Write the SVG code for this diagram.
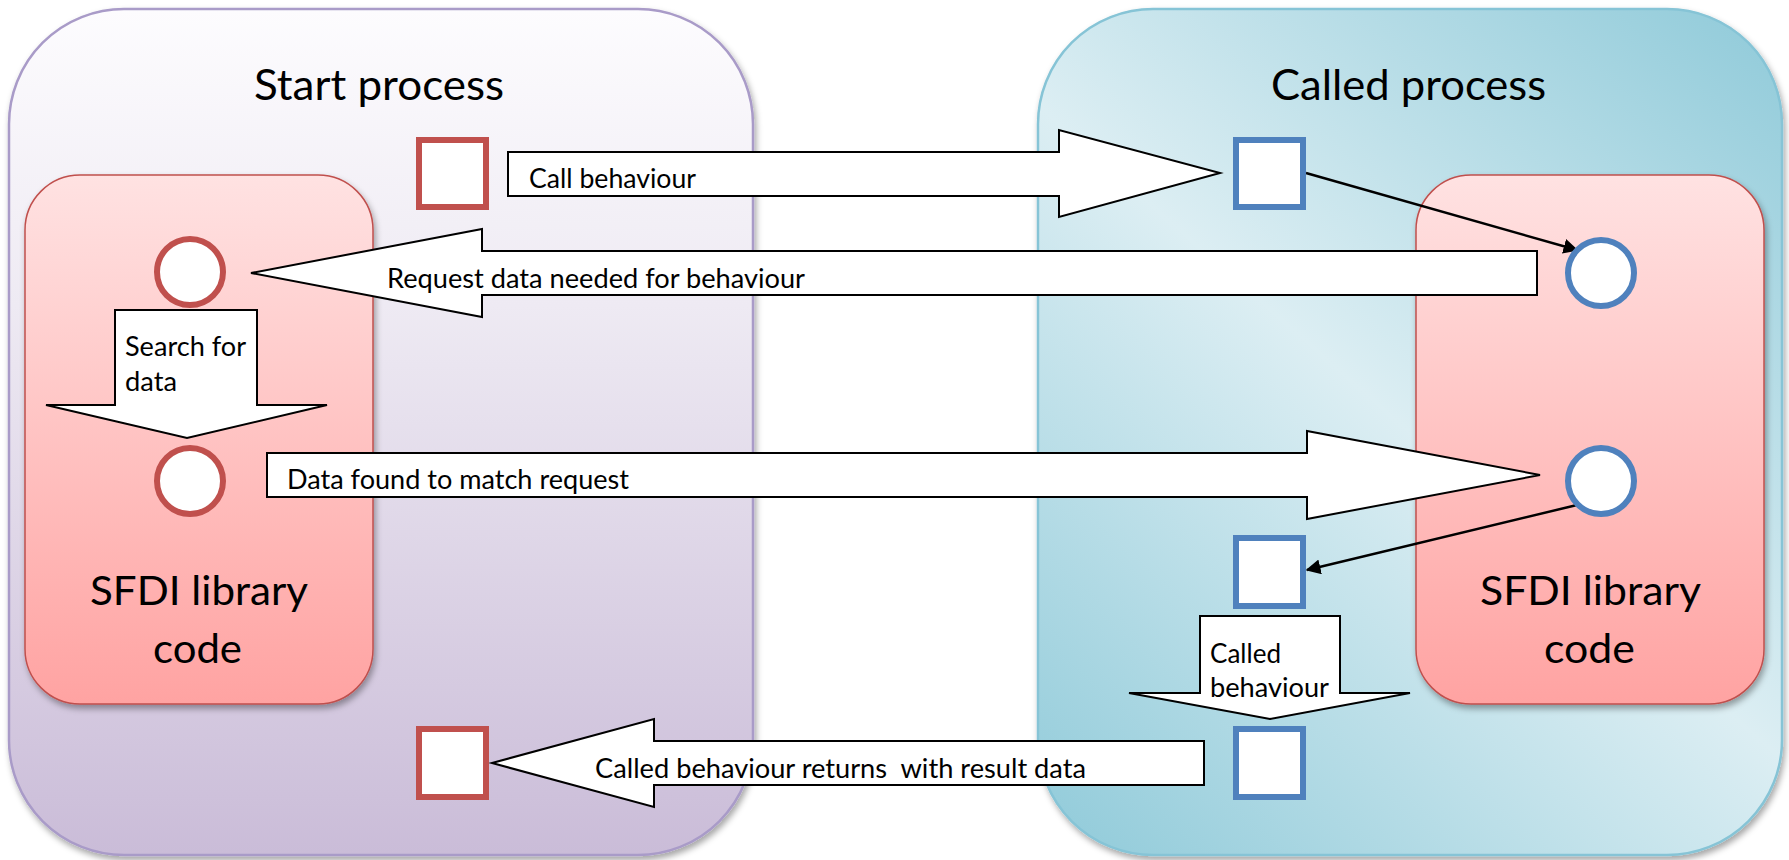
<svg xmlns="http://www.w3.org/2000/svg" width="1789" height="860" viewBox="0 0 1789 860">
  <defs>
    <linearGradient id="gStart" x1="0" y1="0" x2="0" y2="1">
      <stop offset="0" stop-color="#FDFCFE"/>
      <stop offset="0.35" stop-color="#EEEAF3"/>
      <stop offset="1" stop-color="#CABCD8"/>
    </linearGradient>
    <linearGradient id="gCalled" gradientUnits="userSpaceOnUse" x1="1782" y1="9" x2="1038" y2="856">
      <stop offset="0" stop-color="#8FCAD9"/>
      <stop offset="0.5" stop-color="#DCEEF3"/>
      <stop offset="1" stop-color="#8FCAD9"/>
    </linearGradient>
    <linearGradient id="gLib" x1="0" y1="0" x2="0" y2="1">
      <stop offset="0" stop-color="#FFE2E2"/>
      <stop offset="1" stop-color="#FFA3A2"/>
    </linearGradient>
    <filter id="shadow" x="-5%" y="-5%" width="112%" height="112%">
      <feDropShadow dx="2" dy="4" stdDeviation="3" flood-color="#000" flood-opacity="0.35"/>
    </filter>
    <marker id="tip" viewBox="0 0 10 10" refX="9" refY="5" markerWidth="6" markerHeight="6" orient="auto-start-reverse" markerUnits="strokeWidth">
      <path d="M0,0 L10,5 L0,10 Z" fill="#000"/>
    </marker>
  </defs>
  <style>
    .label { font-family: Lato, "Open Sans", "Liberation Sans", sans-serif; fill: #000; }
    .title { font-size: 42px; }
    .lib { font-size: 40px; }
    .small { font-size: 26px; }
    .block { fill: #FFFFFF; stroke: #000; stroke-width: 2; stroke-linejoin: miter; }
    .redSq { fill: #FFFFFF; stroke: #C0504D; stroke-width: 6; }
    .blueSq { fill: #FFFFFF; stroke: #4F81BD; stroke-width: 6; }
    .link { fill: none; stroke: #000; stroke-width: 2.5; }
  </style>

  <!-- process containers -->
  <g id="start-process">
    <rect x="9" y="9" width="744" height="846" rx="115" ry="115" fill="url(#gStart)" stroke="#A99BC8" stroke-width="2.5" filter="url(#shadow)"/>
    <text class="label title" x="254" y="100" textLength="250" lengthAdjust="spacingAndGlyphs">Start process</text>
  </g>
  <g id="called-process">
    <rect x="1038" y="9" width="744" height="846" rx="115" ry="115" fill="url(#gCalled)" stroke="#86C4D6" stroke-width="2.5" filter="url(#shadow)"/>
    <text class="label title" x="1271" y="100" textLength="275" lengthAdjust="spacingAndGlyphs">Called process</text>
  </g>

  <!-- library code boxes -->
  <g id="start-library">
    <rect x="25" y="175" width="348" height="529" rx="55" ry="55" fill="url(#gLib)" stroke="#C0504D" stroke-width="1.5" filter="url(#shadow)"/>
    <text class="label lib" x="90" y="605" textLength="218" lengthAdjust="spacingAndGlyphs">SFDI library</text>
    <text class="label lib" x="153" y="663" textLength="89" lengthAdjust="spacingAndGlyphs">code</text>
  </g>
  <g id="called-library">
    <rect x="1416" y="175" width="348" height="529" rx="55" ry="55" fill="url(#gLib)" stroke="#C0504D" stroke-width="1.5" filter="url(#shadow)"/>
    <text class="label lib" x="1480" y="605" textLength="221" lengthAdjust="spacingAndGlyphs">SFDI library</text>
    <text class="label lib" x="1544" y="663" textLength="91" lengthAdjust="spacingAndGlyphs">code</text>
  </g>

  <!-- connectors: block arrows and thin links -->
  <g id="connectors">
    <g id="call-behaviour">
      <path class="block" d="M508,152 H1059 V130 L1220,173 L1059,217 V196 H508 Z"/>
      <text class="label small" x="529" y="188" textLength="167" lengthAdjust="spacingAndGlyphs">Call behaviour</text>
    </g>
    <g id="request-data">
      <path class="block" d="M1537,251 H482 V229 L251,273 L482,317 V295 H1537 Z"/>
      <text class="label small" x="387" y="288" textLength="418" lengthAdjust="spacingAndGlyphs">Request data needed for behaviour</text>
    </g>
    <g id="search-data">
      <path class="block" d="M115,310 H257 V405 H327 L187,438 L46,405 H115 Z"/>
      <text class="label small" x="125" y="356" textLength="121" lengthAdjust="spacingAndGlyphs">Search for</text>
      <text class="label small" x="125" y="391" textLength="52" lengthAdjust="spacingAndGlyphs">data</text>
    </g>
    <g id="data-found">
      <path class="block" d="M267,453 H1307 V431 L1540,475 L1307,519 V497 H267 Z"/>
      <text class="label small" x="287" y="489" textLength="342" lengthAdjust="spacingAndGlyphs">Data found to match request</text>
    </g>
    <g id="called-behaviour">
      <path class="block" d="M1200,616 H1340 V693 H1410 L1270,719 L1129,693 H1200 Z"/>
      <text class="label small" x="1210" y="663" textLength="71" lengthAdjust="spacingAndGlyphs">Called</text>
      <text class="label small" x="1210" y="697" textLength="119" lengthAdjust="spacingAndGlyphs">behaviour</text>
    </g>
    <g id="returns">
      <path class="block" d="M1204,741 H654 V719 L492,763 L654,807 V785 H1204 Z"/>
      <text class="label small" x="595" y="778" textLength="491" lengthAdjust="spacingAndGlyphs" xml:space="preserve">Called behaviour returns  with result data</text>
    </g>
    <line class="link" x1="1306" y1="173" x2="1577" y2="250" marker-end="url(#tip)"/>
    <line class="link" x1="1577" y1="505" x2="1307" y2="570" marker-end="url(#tip)"/>
  </g>

  <!-- process steps -->
  <g id="start-call"><rect class="redSq" x="419" y="140" width="67" height="67"/></g>
  <g id="start-return"><rect class="redSq" x="419" y="729" width="67" height="68"/></g>
  <g id="start-request"><ellipse cx="190" cy="272" rx="33" ry="33" fill="#FFF" stroke="#C0504D" stroke-width="6"/></g>
  <g id="start-found"><ellipse cx="190" cy="481" rx="33" ry="33" fill="#FFF" stroke="#C0504D" stroke-width="6"/></g>
  <g id="called-entry"><rect class="blueSq" x="1236" y="140" width="67" height="67"/></g>
  <g id="called-run"><rect class="blueSq" x="1236" y="538" width="67" height="68"/></g>
  <g id="called-exit"><rect class="blueSq" x="1236" y="729" width="67" height="68"/></g>
  <g id="called-request"><ellipse cx="1601" cy="273" rx="33" ry="33" fill="#FFF" stroke="#4F81BD" stroke-width="6"/></g>
  <g id="called-found"><ellipse cx="1601" cy="481" rx="33" ry="33" fill="#FFF" stroke="#4F81BD" stroke-width="6"/></g>
</svg>
